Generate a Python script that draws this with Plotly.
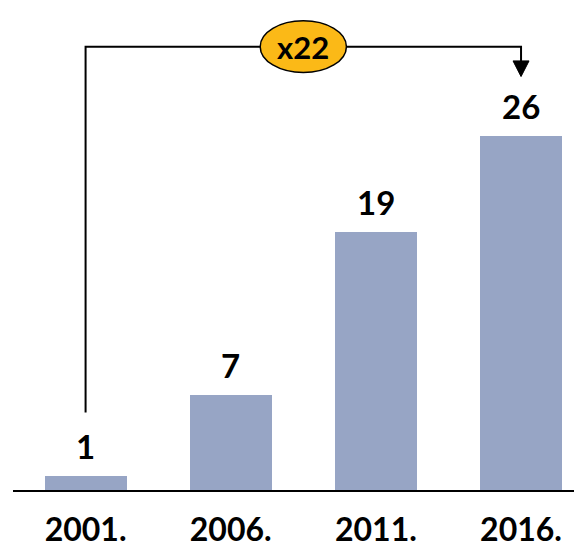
import plotly.graph_objects as go

# Data ---
years = ["2001.", "2006.", "2011.", "2016."]
values = [1, 7, 19, 26]
growth_label = "x22"

BAR_COLOR = "#97A5C5"
BADGE_COLOR = "#FBB917"
FONT = "Lato"

fig = go.Figure()
fig.add_trace(go.Bar(
    x=list(range(len(years))),
    y=values,
    width=0.565,
    marker=dict(color=BAR_COLOR, line=dict(width=0)),
    hoverinfo="skip",
))

# value labels above the bars
for i, v in enumerate(values):
    fig.add_annotation(x=i, y=v, text=str(v), showarrow=False, yanchor="bottom", yshift=8,
                       font=dict(family=FONT, size=33, color="black", weight="bold"))

# bracket showing growth from first to last year
first, last = 0, len(values) - 1
top = values[-1] + 6.6
start = values[0] + 4.7
tip = values[-1] + 4.4
fig.add_shape(type="path",
              path=f"M {first},{start} L {first},{top} L {last},{top} L {last},{tip + 1.1}",
              line=dict(color="black", width=2), xref="x", yref="y")
fig.add_shape(type="path",
              path=f"M {last - 0.055},{tip + 1.15} L {last + 0.055},{tip + 1.15} L {last},{tip} Z",
              fillcolor="black", line=dict(color="black", width=1), xref="x", yref="y")
mid = (first + last) / 2
fig.add_shape(type="circle", x0=mid - 0.297, x1=mid + 0.297, y0=top - 1.9, y1=top + 1.9,
              fillcolor=BADGE_COLOR, line=dict(color="black", width=1.5), xref="x", yref="y")
fig.add_annotation(x=mid, y=top, text=growth_label, showarrow=False,
                   font=dict(family=FONT, size=31, color="black", weight="bold"))

fig.update_xaxes(
    tickmode="array",
    tickvals=list(range(len(years))),
    ticktext=years,
    range=[-0.5, 3.42],
    showline=True, linecolor="black", linewidth=2,
    showgrid=False, zeroline=False,
    ticks="", ticklabelstandoff=11,
    automargin=False,
    tickfont=dict(family=FONT, size=32, color="black", weight="bold"),
)
# page body has an 8px margin, so the plot area starts 8px in
fig.update_yaxes(range=[0, 35.44], visible=False, automargin=False)
fig.update_layout(
    width=574, height=540,
    margin=dict(l=5, r=0, t=0, b=58),
    plot_bgcolor="white", paper_bgcolor="white",
    showlegend=False,
    bargap=0,
)
fig.write_html("out.html")
